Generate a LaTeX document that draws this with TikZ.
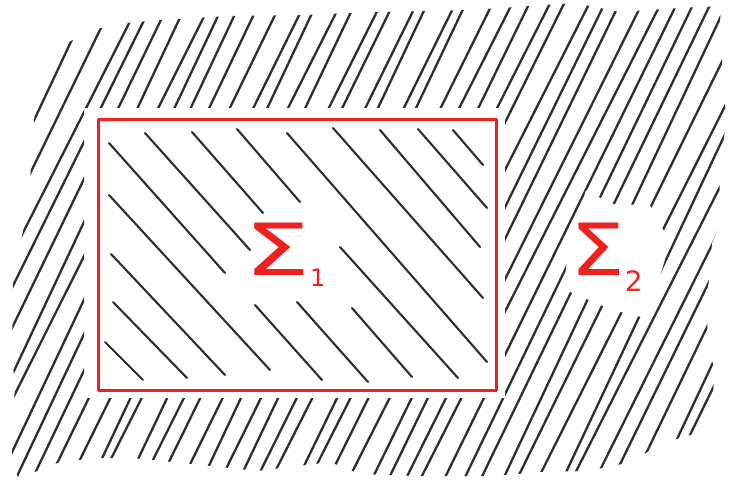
\documentclass[tikz,border=0pt]{standalone}
\usepackage{fontspec}
\usepackage{graphicx}
\newfontfamily\sigfont{DejaVu Sans}
\definecolor{ink}{RGB}{42,47,52}
\definecolor{marker}{RGB}{238,32,32}
\begin{document}
\begin{tikzpicture}[x=1pt,y=-1pt,
  hatch/.style={draw=ink,line width=2.3pt,line cap=round},
  hatchin/.style={draw=ink,line width=2.1pt,line cap=round},
  frame/.style={draw=marker,line width=3pt,line join=round},
  lbl/.style={text=marker,font=\sigfont\fontsize{72}{72}\selectfont,inner sep=0pt}]
\useasboundingbox (0,0) rectangle (731,481);
\fill[white] (0,0) rectangle (731,481);
% outer hatching (region Sigma_2)
\begin{scope}[even odd rule]
\clip
  (12,357) -- (13,280) -- (28,207) -- (32,153) -- (35,107) -- (55,50) -- (87,32) -- (115,24) -- (160,20)
  -- (230,16) -- (300,15) -- (380,12) -- (470,10) -- (575,3) -- (620,12) -- (680,8) -- (720,6)
  -- (722,60) -- (726,118) -- (720,177) -- (718,230) -- (712,243) -- (708,290) -- (707,342)
  -- (714,368) -- (713,405) -- (697,433) -- (660,444) -- (632,462) -- (588,471) -- (540,472)
  -- (495,476) -- (420,476) -- (360,474) -- (330,462) -- (257,471) -- (183,463) -- (132,458)
  -- (98,458) -- (60,462) -- (40,470) -- (18,478) -- (12,457) -- (13,422) -- (15,385) -- cycle
  (84,108) rectangle (505,398)
  (586,190) -- (612,204) -- (650,205) -- (670,242) -- (662,270) -- (645,318) -- (612,310)
  -- (563,289) -- (570,240) -- cycle;
\pgfmathsetseed{12}
\foreach \k in {0,...,44}{
  \pgfmathsetmacro{\xc}{-40+18.8*\k+3*rand}
  \pgfmathsetmacro{\sl}{2.05+0.08*rand}
  \draw[hatch] (\xc+260/\sl,-20) -- (\xc-260/\sl,500);
}
\end{scope}
% inner hatching (region Sigma_1)
\foreach \a/\b in {
  {109,143}/{225,273}, {145,133}/{250,250}, {192,132}/{263,213}, {237,129}/{300,202},
  {287,133}/{487,362}, {333,128}/{483,298}, {380,130}/{480,247}, {418,129}/{487,208},
  {453,130}/{483,165}, {109,195}/{270,370}, {111,254}/{225,375}, {113,302}/{187,378},
  {105,342}/{143,380}, {255,305}/{322,380}, {297,302}/{368,382}, {352,308}/{412,377},
  {340,247}/{458,378}}{
  \draw[hatchin] (\a) -- (\b);
}
% the red frame
\draw[frame] (98,120) rectangle (496,390);
% labels
\node[lbl,anchor=base west] (s1) at (244,275)
  {\scalebox{1.45}[1]{Σ}\raisebox{-12pt}{\fontsize{24}{24}\selectfont 1}};
\node[lbl,anchor=base west] (s2) at (570,275)
  {\scalebox{1.2}[1]{Σ}\raisebox{-17pt}{\fontsize{28}{28}\selectfont 2}};
\end{tikzpicture}
\end{document}
